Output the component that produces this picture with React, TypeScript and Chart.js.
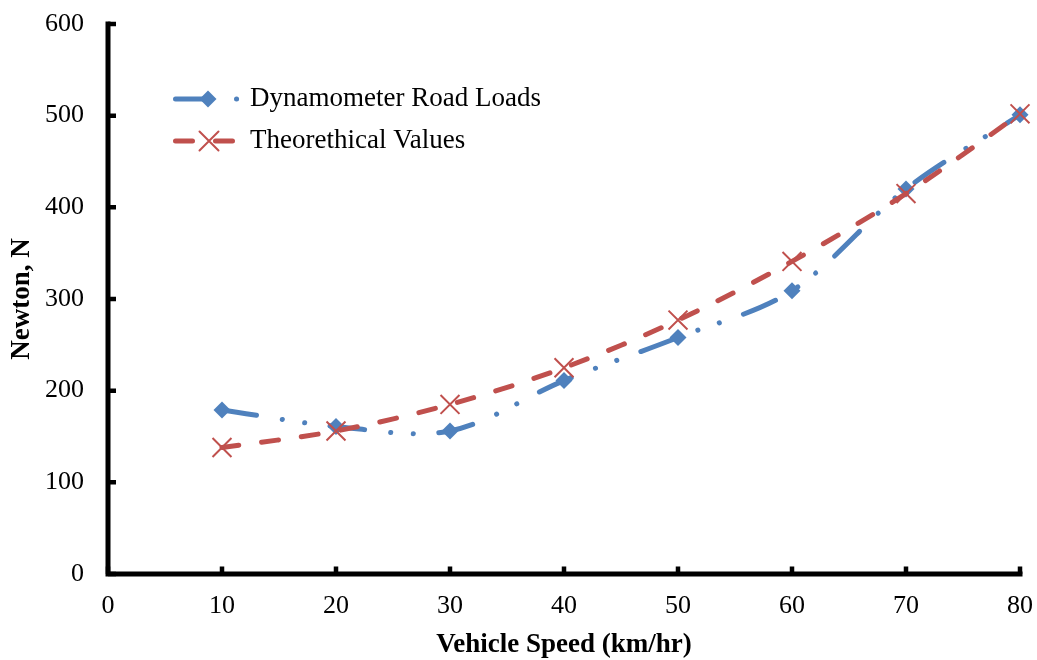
import React, { useEffect, useRef } from "react";
import { Chart, registerables } from "chart.js";

Chart.register(...registerables);

// ---- Data ----
const speeds = [10, 20, 30, 40, 50, 60, 70, 80];
const dynoLoads = [179, 161, 156, 211, 258, 309, 420, 501];
const theoValues = [138, 156, 185, 225, 277, 341, 415, 502];
const seriesNames = ["Dynamometer Road Loads", "Theorethical Values"];
const xTitle = "Vehicle Speed (km/hr)";
const yTitle = "Newton, N";
const xMin = 0, xMax = 80, xStep = 10;
const yMin = 0, yMax = 600, yStep = 100;

// ---- Styles ----
const BLUE = "#4F81BD";
const RED = "#C0504D";
const FONT = "'Liberation Serif', 'Times New Roman', serif";
const BLUE_DASH = [35, 26, 0.1, 22.5, 0.1, 25.5];
const RED_DASH = [17, 23];

function drawDiamond(ctx: CanvasRenderingContext2D, x: number, y: number, r: number) {
  ctx.save();
  ctx.fillStyle = BLUE;
  ctx.beginPath();
  ctx.moveTo(x, y - r);
  ctx.lineTo(x + r, y);
  ctx.lineTo(x, y + r);
  ctx.lineTo(x - r, y);
  ctx.closePath();
  ctx.fill();
  ctx.restore();
}

function drawCross(ctx: CanvasRenderingContext2D, x: number, y: number, h: number) {
  ctx.save();
  ctx.strokeStyle = RED;
  ctx.lineWidth = 2;
  ctx.setLineDash([]);
  ctx.beginPath();
  ctx.moveTo(x - h, y - h);
  ctx.lineTo(x + h, y + h);
  ctx.moveTo(x - h, y + h);
  ctx.lineTo(x + h, y - h);
  ctx.stroke();
  ctx.restore();
}

const axesPlugin = {
  id: "excelAxes",
  beforeDatasetsDraw(chart: any) {
    const { ctx, chartArea } = chart;
    const { left, right, top, bottom } = chartArea;
    const xs = chart.scales.x;
    const ys = chart.scales.y;
    ctx.save();
    ctx.strokeStyle = "#000";
    ctx.lineWidth = 5;
    ctx.lineCap = "butt";
    ctx.setLineDash([]);
    ctx.beginPath();
    ctx.moveTo(left, top - 2.5);
    ctx.lineTo(left, bottom + 2.5);
    ctx.moveTo(left - 2.5, bottom);
    ctx.lineTo(right + 2.5, bottom);
    ctx.stroke();
    ctx.lineWidth = 4.5;
    ctx.beginPath();
    xs.ticks.forEach((t: any) => {
      const px = xs.getPixelForValue(t.value);
      ctx.moveTo(px, bottom);
      ctx.lineTo(px, bottom - 7.5);
    });
    ys.ticks.forEach((t: any) => {
      const py = ys.getPixelForValue(t.value);
      ctx.moveTo(left, py);
      ctx.lineTo(left + 8, py);
    });
    ctx.stroke();
    ctx.restore();
  },
  afterDraw(chart: any) {
    const { ctx } = chart;
    ctx.save();
    ctx.lineWidth = 5;
    ctx.lineCap = "round";
    // Series 1
    const y1 = 99;
    ctx.strokeStyle = BLUE;
    ctx.setLineDash(BLUE_DASH);
    ctx.beginPath();
    ctx.moveTo(175.5, y1);
    ctx.lineTo(241, y1);
    ctx.stroke();
    drawDiamond(ctx, 208, y1, 8.5);
    // Series 2
    const y2 = 141;
    ctx.strokeStyle = RED;
    ctx.setLineDash(RED_DASH);
    ctx.beginPath();
    ctx.moveTo(175.5, y2);
    ctx.lineTo(241, y2);
    ctx.stroke();
    drawCross(ctx, 209, y2, 9.5);
    ctx.setLineDash([]);
    ctx.fillStyle = "#000";
    ctx.font = `27px ${FONT}`;
    ctx.textBaseline = "middle";
    ctx.textAlign = "left";
    ctx.fillText(seriesNames[0], 250, y1);
    ctx.fillText(seriesNames[1], 250, y2);
    ctx.restore();
  },
};

export default function App() {
  const ref = useRef<HTMLCanvasElement | null>(null);

  useEffect(() => {
    if (!ref.current) return;
    const chart = new Chart(ref.current, {
      type: "line",
      data: {
        datasets: [
          {
            label: seriesNames[0],
            data: speeds.map((s, i) => ({ x: s, y: dynoLoads[i] })),
            borderColor: BLUE,
            backgroundColor: BLUE,
            borderWidth: 5,
            borderDash: BLUE_DASH,
            borderCapStyle: "round",
            tension: 0.33,
            pointStyle: "rectRot",
            pointRadius: 8.5,
            pointBorderWidth: 0,
            pointBackgroundColor: BLUE,
            pointBorderColor: BLUE,
            clip: false,
            order: 1,
          } as any,
          {
            label: seriesNames[1],
            data: speeds.map((s, i) => ({ x: s, y: theoValues[i] })),
            borderColor: RED,
            backgroundColor: RED,
            borderWidth: 5,
            borderDash: RED_DASH,
            borderCapStyle: "round",
            tension: 0.33,
            pointStyle: "crossRot",
            pointRadius: 13.4,
            pointBorderWidth: 2,
            pointBackgroundColor: RED,
            pointBorderColor: RED,
            clip: false,
            order: 0,
          } as any,
        ],
      },
      options: {
        animation: false,
        responsive: false,
        devicePixelRatio: 1,
        events: [],
        layout: { padding: { left: 0, right: 17, top: 24, bottom: 0 } },
        plugins: { legend: { display: false }, tooltip: { enabled: false } },
        scales: {
          x: {
            type: "linear",
            min: xMin,
            max: xMax,
            grid: { display: false, drawTicks: false },
            border: { display: false },
            ticks: {
              stepSize: xStep,
              color: "#000",
              font: { family: FONT, size: 26 },
              padding: 17,
              maxRotation: 0,
            },
            title: {
              display: true,
              text: xTitle,
              color: "#000",
              font: { family: FONT, size: 27, weight: "bold", lineHeight: 1 },
              padding: { top: 0, bottom: 1.5 },
            },
            afterFit(scale: any) {
              scale.height = 86;
              scale.paddingLeft = 0;
              scale.paddingRight = 0;
            },
          },
          y: {
            type: "linear",
            min: yMin,
            max: yMax,
            grid: { display: false, drawTicks: false },
            border: { display: false },
            ticks: {
              stepSize: yStep,
              color: "#000",
              font: { family: FONT, size: 26 },
              padding: 24,
            },
            title: {
              display: true,
              text: yTitle,
              color: "#000",
              font: { family: FONT, size: 27, weight: "bold", lineHeight: 1 },
              padding: { top: 9, bottom: 0 },
            },
            afterFit(scale: any) {
              scale.width = 108;
              scale.paddingTop = 0;
              scale.paddingBottom = 0;
            },
          },
        },
      } as any,
      plugins: [axesPlugin],
    });
    return () => chart.destroy();
  }, []);

  return (
    <div style={{ position: "fixed", left: 0, top: 0, width: 1037, height: 660, background: "#fff" }}>
      <canvas ref={ref} width={1037} height={660} style={{ width: 1037, height: 660, display: "block" }} />
    </div>
  );
}
